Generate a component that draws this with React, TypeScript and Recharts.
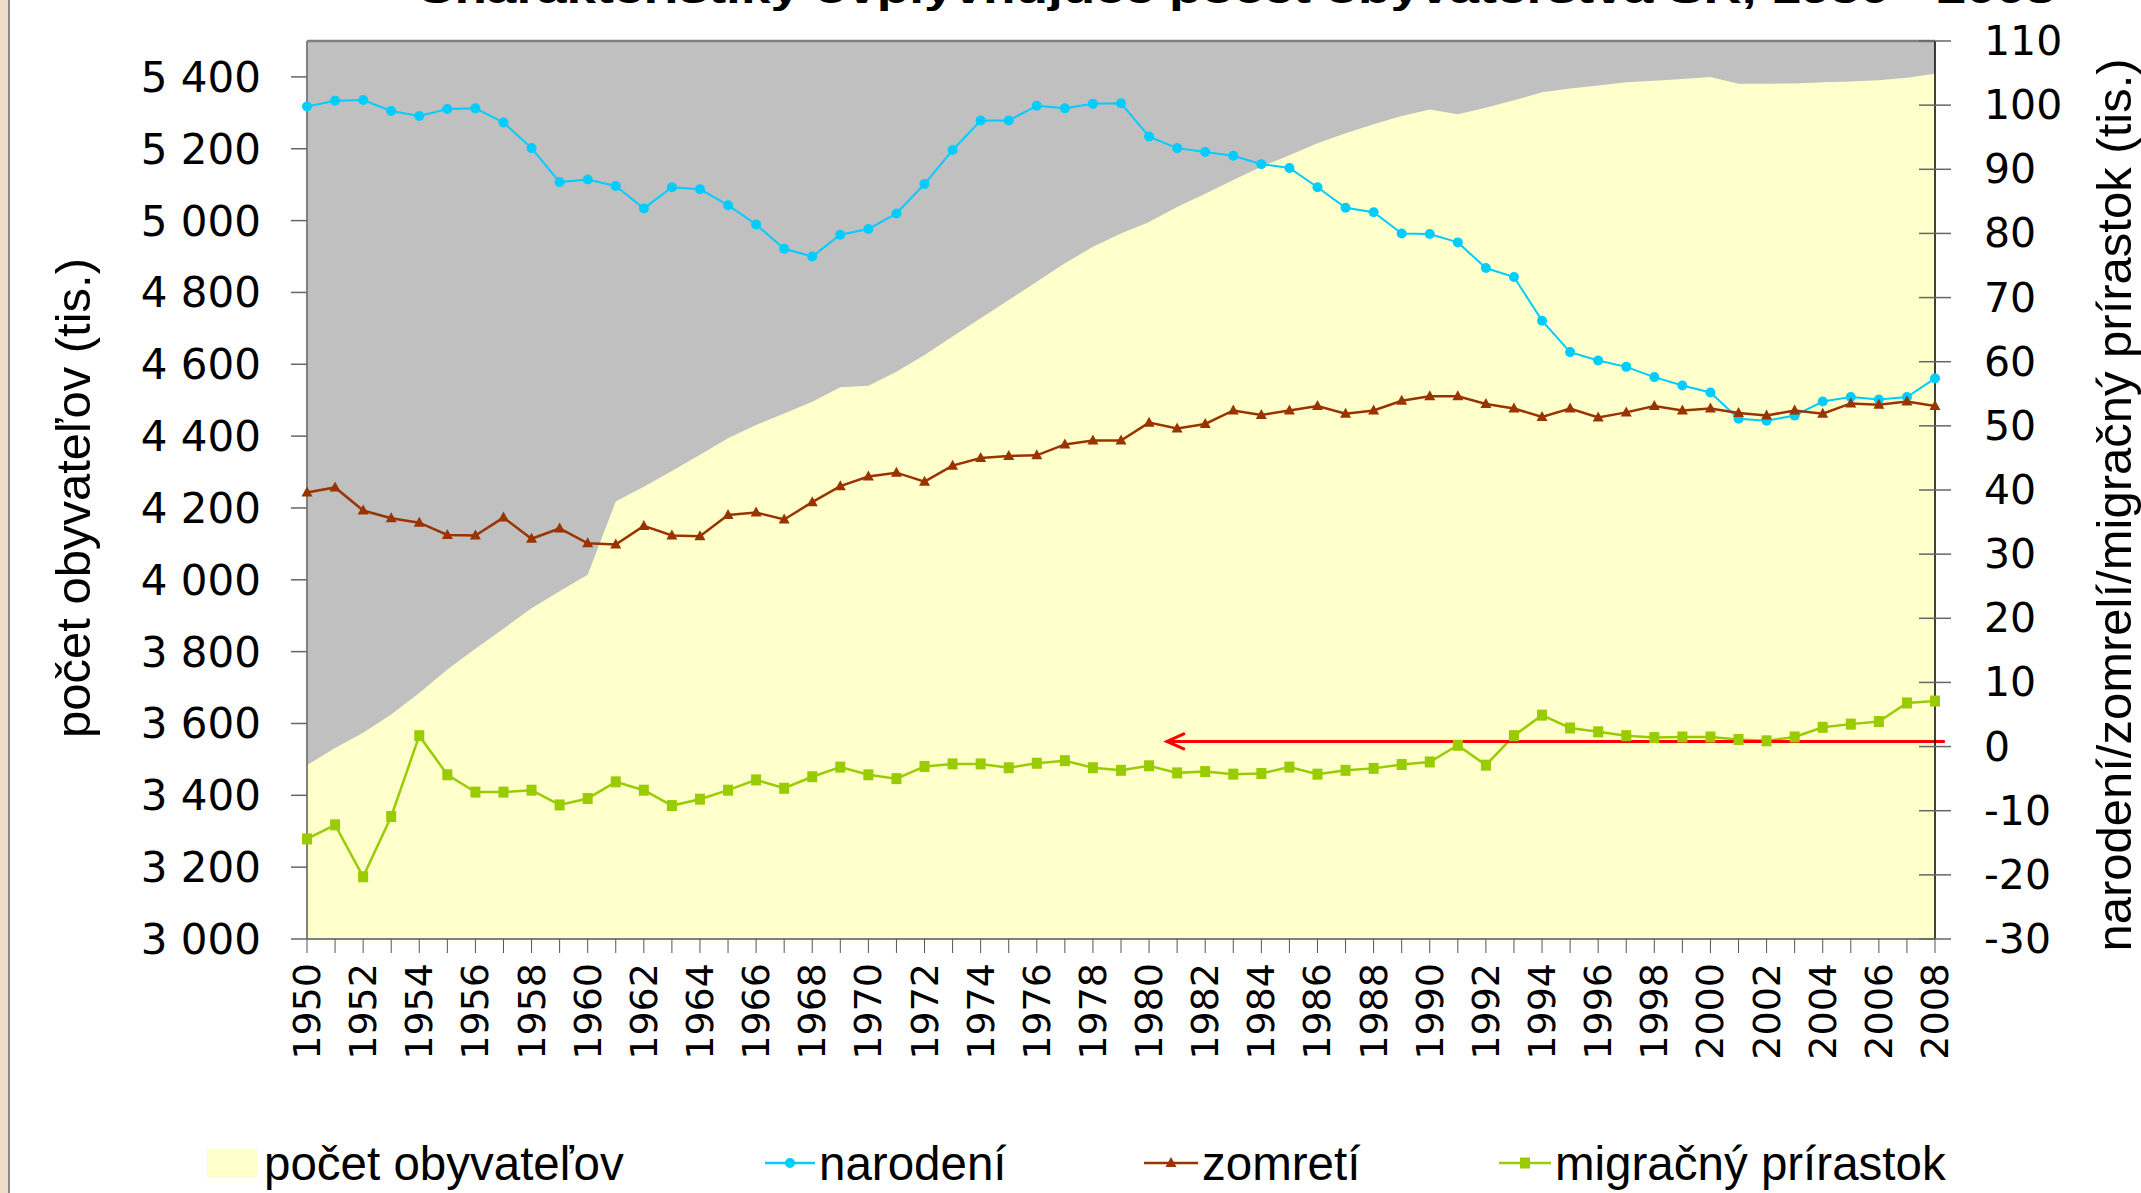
import React from 'react';
import { ComposedChart, Area, Line, XAxis, YAxis, CartesianGrid, ReferenceLine, Legend } from 'recharts';

const years = [
  1950, 1951, 1952, 1953, 1954, 1955, 1956, 1957, 1958, 1959,
  1960, 1961, 1962, 1963, 1964, 1965, 1966, 1967, 1968, 1969,
  1970, 1971, 1972, 1973, 1974, 1975, 1976, 1977, 1978, 1979,
  1980, 1981, 1982, 1983, 1984, 1985, 1986, 1987, 1988, 1989,
  1990, 1991, 1992, 1993, 1994, 1995, 1996, 1997, 1998, 1999,
  2000, 2001, 2002, 2003, 2004, 2005, 2006, 2007, 2008,
];

// počet obyvateľov (tis.) – left axis
const population = [
  3484, 3532, 3574, 3625, 3685, 3750, 3808, 3864, 3921, 3968,
  4014, 4218, 4259, 4303, 4348, 4394, 4431, 4463, 4496, 4536,
  4540, 4579, 4626, 4677, 4728, 4779, 4830, 4881, 4927, 4964,
  4996, 5038, 5075, 5113, 5150, 5182, 5215, 5243, 5268, 5291,
  5309, 5296, 5314, 5335, 5357, 5368, 5376, 5385, 5389, 5394,
  5400, 5381, 5381, 5382, 5385, 5387, 5391, 5398, 5409,
];

// narodení (tis.) – right axis
const births = [
  99.8, 100.7, 100.8, 99.1, 98.3, 99.4, 99.5, 97.3, 93.3, 88.0,
  88.4, 87.4, 83.9, 87.2, 86.9, 84.4, 81.4, 77.6, 76.4, 79.8,
  80.7, 83.1, 87.7, 93.0, 97.6, 97.6, 99.9, 99.5, 100.2, 100.3,
  95.1, 93.3, 92.7, 92.1, 90.8, 90.2, 87.2, 84.0, 83.3, 80.0,
  79.9, 78.6, 74.6, 73.2, 66.4, 61.5, 60.2, 59.2, 57.6, 56.3,
  55.2, 51.1, 50.8, 51.6, 53.8, 54.5, 54.1, 54.5, 57.4,
];

// zomretí (tis.) – right axis
const deaths = [
  39.6, 40.4, 36.8, 35.6, 34.9, 33.0, 32.9, 35.7, 32.4, 34.0,
  31.7, 31.5, 34.4, 32.9, 32.8, 36.1, 36.5, 35.4, 38.1, 40.6,
  42.1, 42.7, 41.3, 43.8, 45.0, 45.3, 45.4, 47.1, 47.7, 47.7,
  50.5, 49.6, 50.3, 52.4, 51.7, 52.4, 53.1, 51.9, 52.4, 53.9,
  54.6, 54.6, 53.4, 52.7, 51.4, 52.7, 51.3, 52.1, 53.1, 52.4,
  52.7, 52.0, 51.6, 52.4, 51.9, 53.5, 53.3, 53.8, 53.1,
];

// migračný prírastok (tis.) – right axis
const migration = [
  -14.4, -12.2, -20.3, -10.9, 1.7, -4.4, -7.1, -7.1, -6.8, -9.1,
  -8.1, -5.5, -6.8, -9.2, -8.2, -6.8, -5.2, -6.5, -4.7, -3.2,
  -4.4, -5.0, -3.1, -2.7, -2.7, -3.3, -2.6, -2.2, -3.3, -3.7,
  -3.0, -4.1, -3.9, -4.3, -4.2, -3.2, -4.3, -3.7, -3.4, -2.8,
  -2.4, 0.2, -2.9, 1.7, 4.9, 2.9, 2.3, 1.7, 1.4, 1.5,
  1.5, 1.1, 0.9, 1.5, 3.0, 3.5, 3.9, 6.8, 7.1,
];

const leftTicks = [3000, 3200, 3400, 3600, 3800, 4000, 4200, 4400, 4600, 4800, 5000, 5200, 5400];
const rightTicks = [-30, -20, -10, 0, 10, 20, 30, 40, 50, 60, 70, 80, 90, 100, 110];
const leftDomain = [3000, 5500];
const rightDomain = [-30, 110];

// red arrow annotation (right axis level, years)
const arrowSegment = [{ year: 1981, value: 0.8 }, { year: 2008, value: 0.8 }];
const arrowTipYear = 1980.6;
const arrowTailYear = 2008.35;

const title = 'Charakteristiky ovplyvňujúce počet obyvateľstva SR, 1950 - 2008';
const leftTitle = 'počet obyvateľov (tis.)';
const rightTitle = 'narodení/zomrelí/migračný prírastok (tis.)';

const COLORS = {
  plotBg: '#C0C0C0',
  area: '#FFFFCC',
  births: '#00CCFF',
  deaths: '#993300',
  migration: '#99CC00',
  arrow: '#FF0000',
};

const legendItems = [
  { name: 'počet obyvateľov', kind: 'area', color: COLORS.area },
  { name: 'narodení', kind: 'circle', color: COLORS.births },
  { name: 'zomretí', kind: 'triangle', color: COLORS.deaths },
  { name: 'migračný prírastok', kind: 'square', color: COLORS.migration },
];

const data = years.map((year, i) => ({
  year,
  population: population[i],
  births: births[i],
  deaths: deaths[i],
  migration: migration[i],
}));

const TICK_FONT = '"DejaVu Sans", Verdana, sans-serif';
const TEXT_FONT = '"Liberation Sans", Arial, sans-serif';

const fmtThousands = (v: number) => {
  const s = String(v);
  return s.length > 3 ? s.slice(0, -3) + '\u00a0' + s.slice(-3) : s;
};

const XTick = (props: any) => {
  const { x, y, payload } = props;
  if (payload.value % 2 !== 0) return <g />;
  return (
    <text
      x={x}
      y={y}
      transform={`rotate(-90 ${x} ${y})`}
      textAnchor="end"
      dominantBaseline="central"
      fontSize={38}
      fontFamily={TICK_FONT}
      fill="#000"
    >
      {payload.value}
    </text>
  );
};

const RightTick = (props: any) => {
  const { x, y, payload } = props;
  const axisX = x - 33 - 16;
  return (
    <g>
      <line x1={axisX - 16} x2={axisX} y1={y} y2={y} stroke="#666" strokeWidth={1.5} />
      <text x={x} y={y} textAnchor="start" dominantBaseline="central" fontSize={41} fontFamily={TICK_FONT} fill="#000">
        {payload.value}
      </text>
    </g>
  );
};

const CircleDot = (p: any) => {
  if (p.cx == null || p.cy == null) return <g key={p.index} />;
  return <circle key={p.index} cx={p.cx} cy={p.cy} r={5} fill={COLORS.births} />;
};
const TriangleDot = (p: any) => {
  if (p.cx == null || p.cy == null) return <g key={p.index} />;
  const { cx, cy } = p;
  return <path key={p.index} d={`M${cx},${cy - 6} L${cx + 5.5},${cy + 4} L${cx - 5.5},${cy + 4} Z`} fill={COLORS.deaths} />;
};
const SquareDot = (p: any) => {
  if (p.cx == null || p.cy == null) return <g key={p.index} />;
  return <rect key={p.index} x={p.cx - 5} y={p.cy - 5.5} width={10} height={11} fill={COLORS.migration} />;
};

const ArrowShape = (props: any) => {
  const { x1, y1, x2, y2 } = props;
  const step = (x2 - x1) / (arrowSegment[1].year - arrowSegment[0].year);
  const tip = x1 + (arrowTipYear - arrowSegment[0].year) * step;
  const tail = x2 + (arrowTailYear - arrowSegment[1].year) * step;
  return (
    <g>
      <line x1={tip} y1={y1} x2={tail} y2={y2} stroke={COLORS.arrow} strokeWidth={3} />
      <polyline
        points={`${tip + 19},${y1 - 8} ${tip + 1},${y1} ${tip + 19},${y1 + 8}`}
        fill="none"
        stroke={COLORS.arrow}
        strokeWidth={3}
      />
    </g>
  );
};

const legendLayout = [
  { swatch: 207, text: 264 },
  { swatch: 765, text: 819 },
  { swatch: 1144, text: 1202 },
  { swatch: 1499, text: 1555 },
];

const LegendContent = () => (
  <svg width={2141} height={60} style={{ display: 'block', overflow: 'visible' }}>
    {legendItems.map((it, i) => {
      const pos = legendLayout[i];
      const cy = 30;
      let marker: React.ReactNode = null;
      if (it.kind === 'area') {
        marker = <rect x={pos.swatch} y={cy - 14} width={50} height={29} fill={it.color} />;
      } else {
        const w = pos.text - pos.swatch - 4;
        const mx = pos.swatch + w / 2;
        let m: React.ReactNode = null;
        if (it.kind === 'circle') m = <circle cx={mx} cy={cy} r={5} fill={it.color} />;
        if (it.kind === 'triangle')
          m = <path d={`M${mx},${cy - 6} L${mx + 5.5},${cy + 4} L${mx - 5.5},${cy + 4} Z`} fill={it.color} />;
        if (it.kind === 'square') m = <rect x={mx - 5} y={cy - 5.5} width={10} height={11} fill={it.color} />;
        marker = (
          <g>
            <line x1={pos.swatch} x2={pos.swatch + w} y1={cy} y2={cy} stroke={it.color} strokeWidth={2.5} />
            {m}
          </g>
        );
      }
      return (
        <g key={it.name}>
          {marker}
          <text x={pos.text} y={cy} dominantBaseline="central" fontSize={47.5} fontFamily={TEXT_FONT} fill="#000">
            {it.name}
          </text>
        </g>
      );
    })}
  </svg>
);

export default function App() {
  return (
    <div style={{ position: 'absolute', left: 0, top: 0, width: 2141, height: 1193, background: '#fff', overflow: 'hidden' }}>
      <div style={{ position: 'absolute', left: 0, top: 0, width: 8, height: 1193, background: '#EFDCC9' }} />
      <div style={{ position: 'absolute', left: 8, top: 0, width: 2, height: 1193, background: '#8A8A8A' }} />
      <div style={{ position: 'absolute', left: 0, top: 0 }}>
        <ComposedChart width={2141} height={1193} data={data} margin={{ top: 41, right: 0, bottom: 0, left: 0 }}>
          <CartesianGrid fill={COLORS.plotBg} horizontal={false} vertical={false} yAxisId="left" />
          <XAxis
            dataKey="year"
            type="category"
            scale="point"
            interval={0}
            padding={{ left: 0, right: 0 }}
            height={254}
            tickSize={14}
            tickMargin={10}
            axisLine={{ stroke: '#808080', strokeWidth: 2 }}
            tickLine={{ stroke: '#555', strokeWidth: 1 }}
            tick={XTick}
          />
          <YAxis
            yAxisId="left"
            width={307}
            domain={leftDomain}
            ticks={leftTicks}
            interval={0}
            tickFormatter={fmtThousands}
            tickSize={16}
            tickMargin={30}
            axisLine={{ stroke: '#808080', strokeWidth: 2 }}
            tickLine={{ stroke: '#666', strokeWidth: 1.5 }}
            tick={{ fontSize: 42, fontFamily: TICK_FONT, fill: '#000' }}
          />
          <YAxis
            yAxisId="right"
            orientation="right"
            width={206}
            domain={rightDomain}
            ticks={rightTicks}
            interval={0}
            tickSize={16}
            tickMargin={33}
            axisLine={{ stroke: '#000', strokeWidth: 1.5 }}
            tickLine={{ stroke: '#666', strokeWidth: 1.5 }}
            tick={RightTick}
          />
          <Area
            yAxisId="left"
            type="linear"
            dataKey="population"
            name="počet obyvateľov"
            stroke="none"
            fill={COLORS.area}
            fillOpacity={1}
            dot={false}
            activeDot={false}
            isAnimationActive={false}
          />
          <ReferenceLine yAxisId="left" y={leftDomain[1]} stroke="#808080" strokeWidth={2.5} />
          <Line
            yAxisId="right"
            type="linear"
            dataKey="births"
            name="narodení"
            stroke={COLORS.births}
            strokeWidth={2}
            dot={CircleDot}
            activeDot={false}
            isAnimationActive={false}
          />
          <Line
            yAxisId="right"
            type="linear"
            dataKey="deaths"
            name="zomretí"
            stroke={COLORS.deaths}
            strokeWidth={2.5}
            dot={TriangleDot}
            activeDot={false}
            isAnimationActive={false}
          />
          <Line
            yAxisId="right"
            type="linear"
            dataKey="migration"
            name="migračný prírastok"
            stroke={COLORS.migration}
            strokeWidth={2.5}
            dot={SquareDot}
            activeDot={false}
            isAnimationActive={false}
          />
          <ReferenceLine
            yAxisId="right"
            segment={[
              { x: arrowSegment[0].year, y: arrowSegment[0].value },
              { x: arrowSegment[1].year, y: arrowSegment[1].value },
            ]}
            shape={ArrowShape}
          />
          <Legend
            layout="horizontal"
            verticalAlign="middle"
            align="center"
            content={LegendContent}
            wrapperStyle={{ left: 0, top: 1133, width: 2141, height: 60 }}
          />
        </ComposedChart>
      </div>
      <svg
        width={2141}
        height={1193}
        style={{ position: 'absolute', left: 0, top: 0, pointerEvents: 'none', overflow: 'visible' }}
      >
        <text x={416} y={3} fontSize={38} fontWeight="bold" fontFamily={TEXT_FONT} textLength={1639} lengthAdjust="spacingAndGlyphs" fill="#000">
          {title}
        </text>
        <text
          x={73}
          y={498}
          transform="rotate(-90 73 498)"
          textAnchor="middle"
          dominantBaseline="central"
          fontSize={49}
          fontFamily={TEXT_FONT}
          fill="#000"
        >
          {leftTitle}
        </text>
        <text
          x={2114}
          y={505}
          transform="rotate(-90 2114 505)"
          textAnchor="middle"
          dominantBaseline="central"
          fontSize={49}
          fontFamily={TEXT_FONT}
          fill="#000"
        >
          {rightTitle}
        </text>
      </svg>
    </div>
  );
}
